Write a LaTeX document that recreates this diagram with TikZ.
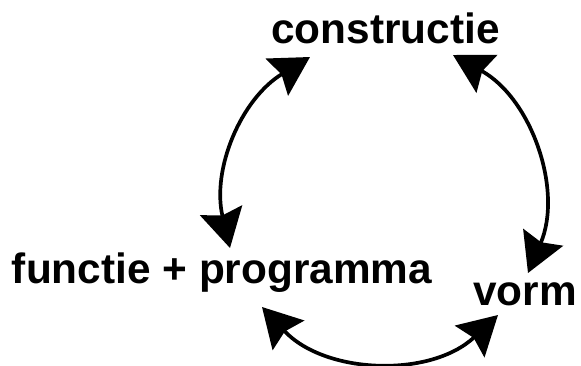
\documentclass[tikz,border=0pt]{standalone}
\usepackage{fontspec}
\setmainfont{Liberation Sans}
\usetikzlibrary{arrows.meta}
\begin{document}
\begin{tikzpicture}[scale=0.2,
		lbl/.style={font=\fontsize{24.1}{29}\selectfont\bfseries, anchor=base},
		link/.style={{Stealth[length=22pt,width=24.5pt,inset=3pt]}-{Stealth[length=22pt,width=24.5pt,inset=3pt]}, line width=2.1pt}]
		\tikzstyle{every node}+=[inner sep=0pt]
		\useasboundingbox (0,0) rectangle (58.1,-36.5);
		\node [lbl] (con) at (38.55,-4.3) {constructie};
		\node [lbl] (fun) at (22.2,-28.3) {functie + programma};
		\node [lbl, anchor=base west] (vor) at (47.3,-30.5) {vorm};
		\coordinate (con-l) at (31,-5.7);
		\coordinate (con-r) at (45.3,-5.5);
		\coordinate (fun-t) at (23,-24.8);
		\coordinate (fun-b) at (26.2,-30.7);
		\coordinate (vor-t) at (52.8,-27.3);
		\coordinate (vor-b) at (49.8,-31.5);
		\draw [link] (con-l) to [bend right=36] (fun-t);
		\draw [link] (con-r) to [bend left=42] (vor-t);
		\draw [link] (fun-b) to [bend right=45] (vor-b);
	\end{tikzpicture}
\end{document}
